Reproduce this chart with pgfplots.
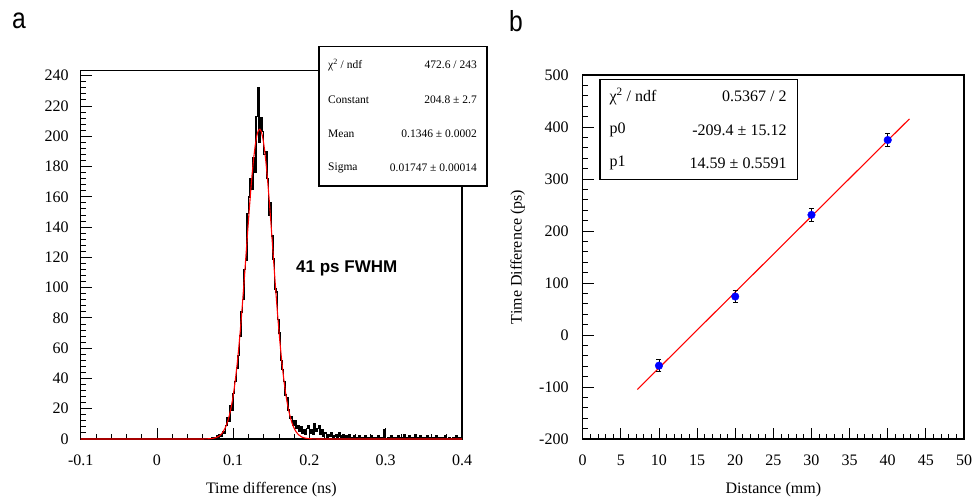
\documentclass[border=0pt]{standalone}
\usepackage{fontspec}
\setmainfont{Liberation Serif}
\newfontfamily\sansf{Liberation Sans}
\usepackage{pgfplots}
\pgfplotsset{compat=1.18}
\pgfplotstableread{
x y
-0.100 0
0.070 0
0.072 1
0.074 0
0.076 1
0.078 2
0.080 1
0.082 3
0.084 2
0.086 5
0.088 4
0.090 9
0.092 14
0.094 12
0.096 22
0.098 19
0.100 30
0.102 38
0.104 47
0.106 55
0.108 68
0.110 84
0.112 92
0.114 112
0.116 118
0.118 149
0.120 160
0.122 172
0.124 165
0.126 186
0.128 176
0.130 213
0.132 232
0.134 196
0.136 212
0.138 203
0.140 188
0.142 190
0.144 172
0.146 148
0.148 156
0.150 134
0.152 119
0.154 99
0.156 97
0.158 79
0.160 70
0.162 52
0.164 46
0.166 38
0.168 29
0.170 27
0.172 19
0.174 14
0.176 15
0.178 9
0.180 12
0.182 7
0.184 9
0.186 5
0.188 8
0.190 4
0.192 6
0.194 3
0.196 7
0.198 9
0.200 4
0.202 6
0.204 3
0.206 10
0.208 5
0.210 7
0.212 9
0.214 3
0.216 6
0.218 2
0.220 4
0.222 1
0.224 3
0.226 2
0.228 4
0.230 1
0.232 2
0.234 3
0.236 1
0.238 4
0.240 2
0.242 1
0.244 3
0.246 0
0.248 2
0.250 1
0.252 3
0.254 1
0.256 0
0.258 2
0.260 1
0.262 0
0.264 2
0.266 1
0.268 0
0.270 1
0.272 2
0.274 0
0.276 1
0.278 0
0.280 2
0.282 1
0.284 0
0.286 1
0.288 0
0.290 2
0.292 1
0.294 0
0.296 1
0.298 6
0.300 0
0.302 1
0.304 0
0.306 2
0.308 1
0.310 0
0.312 1
0.314 0
0.316 2
0.318 0
0.320 1
0.322 0
0.324 3
0.326 1
0.328 0
0.330 2
0.332 1
0.334 0
0.336 1
0.338 3
0.340 1
0.342 0
0.344 2
0.346 0
0.348 1
0.350 0
0.352 1
0.354 2
0.356 0
0.358 1
0.360 0
0.362 1
0.364 0
0.366 2
0.368 0
0.370 1
0.372 0
0.374 1
0.376 0
0.378 2
0.380 0
0.382 1
0.384 0
0.386 0
0.388 1
0.390 0
0.392 2
0.394 0
0.396 1
0.398 0
0.400 0
}\histdata
\pgfplotstableread{
x y
-0.100 0
0.060 0.02
0.065 0.07
0.071 0.27
0.073 0.41
0.075 0.6
0.077 0.9
0.079 1.3
0.081 1.8
0.083 2.6
0.085 3.6
0.087 5.0
0.089 6.8
0.091 9.1
0.093 12.0
0.095 15.7
0.097 20.2
0.099 25.6
0.101 32.2
0.103 39.9
0.105 48.7
0.107 58.7
0.109 69.9
0.111 82.2
0.113 95.3
0.115 109.1
0.117 123.2
0.119 137.4
0.121 151.3
0.123 164.3
0.125 176.1
0.127 186.3
0.129 194.5
0.131 200.5
0.133 203.9
0.135 204.7
0.137 202.9
0.139 198.4
0.141 191.5
0.143 182.4
0.145 171.5
0.147 159.2
0.149 145.8
0.151 131.8
0.153 117.6
0.155 103.5
0.157 89.9
0.159 77.2
0.161 65.3
0.163 54.6
0.165 45.0
0.167 36.7
0.169 29.4
0.171 23.3
0.173 18.3
0.175 14.1
0.177 10.7
0.179 8.1
0.181 6.0
0.183 4.4
0.185 3.2
0.187 2.3
0.189 1.6
0.191 1.1
0.193 0.76
0.195 0.52
0.200 0.18
0.210 0.02
0.400 0
}\fitdata
\pgfplotsset{rootstyle/.style={
  scale only axis,
  tick align=inside,
  xtick pos=left, ytick pos=left,
  major tick length=11pt, minor tick length=5.5pt,
  axis line style={line width=1.2pt},
  tick style={line width=0.9pt, black},
  tick label style={font=\rmfamily\fontsize{16}{16}\selectfont, inner sep=0pt},
  xticklabel style={yshift=-16pt},
  label style={font=\rmfamily\fontsize{16}{16}\selectfont},
}}
\begin{document}
\begin{tikzpicture}[x=1pt,y=1pt]
\useasboundingbox (0,0) rectangle (973,498);
% panel labels
\node[font=\sansf\fontsize{29}{29}\selectfont, xscale=0.85] at (19,477) {a};
\node[font=\sansf\fontsize{29}{29}\selectfont, xscale=0.85] at (516,477) {b};

% left panel
\begin{axis}[rootstyle,
  at={(80.7pt,59pt)}, anchor=south west,
  width=381.3pt, height=368.3pt,
  xmin=-0.1, xmax=0.4, ymin=0, ymax=243.3,
  xtick={-0.1,0,0.1,0.2,0.3,0.4},
  xticklabels={-0.1,0,0.1,0.2,0.3,0.4},
  ytick={0,20,40,60,80,100,120,140,160,180,200,220,240},
  yticklabels={0,20,40,60,80,100,120,140,160,180,200,220,240},
  minor x tick num=4, minor y tick num=4,
  yticklabel style={xshift=-12pt},
  xlabel={Time difference (ns)},
  xlabel style={at={(axis description cs:0.5,-0.1385)}, anchor=center},
]
\addplot[const plot, black, line width=1.5pt] table[x=x,y=y] {\histdata};
\addplot[red, line width=1.1pt] table[x=x,y=y] {\fitdata};
\node[anchor=west, font=\sansf\bfseries\fontsize{17}{17}\selectfont] at (axis cs:0.178,113) {41 ps FWHM};
\end{axis}

% left stats box
\draw[fill=white, line width=1.2pt] (319,312) rectangle (487,451.3);
\begin{scope}[every node/.style={font=\rmfamily\fontsize{11.5}{11.5}\selectfont, inner sep=0pt}]
\node[anchor=west] at (328,433) {χ\textsuperscript{2} / ndf};
\node[anchor=east] at (477,433) {472.6 / 243};
\node[anchor=west] at (328,398.5) {Constant};
\node[anchor=east] at (477,398.5) {204.8 ± 2.7};
\node[anchor=west] at (328,364) {Mean};
\node[anchor=east] at (477,364) {0.1346 ± 0.0002};
\node[anchor=west] at (328,330) {Sigma};
\node[anchor=east] at (477,330) {0.01747 ± 0.00014};
\end{scope}

% right panel
\begin{axis}[rootstyle,
  at={(582.7pt,59pt)}, anchor=south west,
  width=381.3pt, height=364pt,
  xmin=0, xmax=50, ymin=-200, ymax=500,
  xtick={0,5,10,15,20,25,30,35,40,45,50},
  xticklabels={0,5,10,15,20,25,30,35,40,45,50},
  ytick={-200,-100,0,100,200,300,400,500},
  yticklabels={-200,-100,0,100,200,300,400,500},
  minor x tick num=4, minor y tick num=4,
  yticklabel style={xshift=-14pt},
  xlabel={Distance (mm)},
  xlabel style={at={(axis description cs:0.5,-0.1401)}, anchor=center},
  ylabel={Time Difference (ps)},
  ylabel style={at={(axis description cs:-0.1705,0.5)}, anchor=center},
]
\addplot[red, line width=1.1pt] coordinates {(7.16,-104.9) (42.84,415.6)};
\addplot[only marks, mark=*, mark size=3.8pt, mark options={fill=blue, draw=blue},
  error bars/.cd, y dir=both, y explicit,
  error bar style={line width=0.9pt, black},
  error mark options={rotate=90, mark size=2.5pt, black, line width=0.9pt}]
  coordinates {(10,-59) +- (0,12) (20,74) +- (0,12) (30,231) +- (0,12) (40,375) +- (0,12)};
\end{axis}

% right stats box
\draw[fill=white, line width=1.2pt] (600,318.7) rectangle (797.3,418.7);
\begin{scope}[every node/.style={font=\rmfamily\fontsize{16}{16}\selectfont, inner sep=0pt}]
\node[anchor=west] at (609.3,401.3) {χ\textsuperscript{2} / ndf};
\node[anchor=east] at (786.7,401.3) {0.5367 / 2};
\node[anchor=west] at (609.3,368) {p0};
\node[anchor=east] at (786.7,368) {-209.4 ± 15.12};
\node[anchor=west] at (609.3,334.7) {p1};
\node[anchor=east] at (786.7,334.7) {14.59 ± 0.5591};
\end{scope}
\end{tikzpicture}
\end{document}
